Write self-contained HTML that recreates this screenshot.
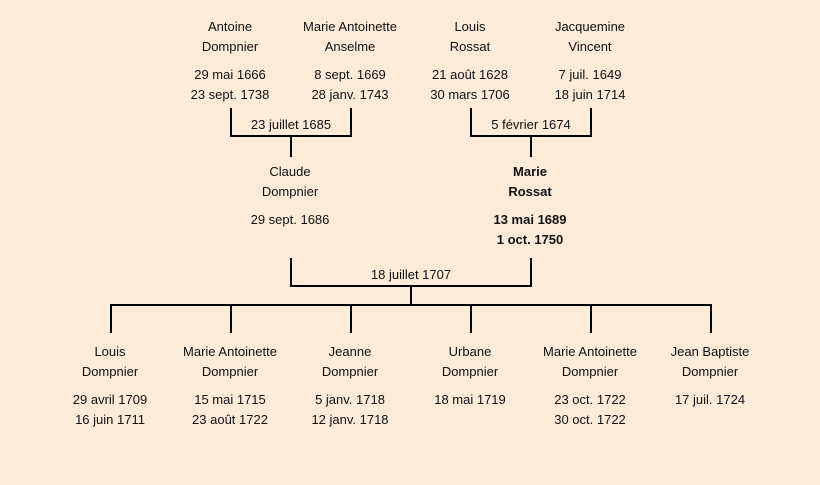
<!DOCTYPE html>
<html><head><meta charset="utf-8"><style>
html,body{margin:0;padding:0}
body{width:820px;height:485px;background:#fcebd9;position:relative;overflow:hidden;font-family:"Liberation Sans","DejaVu Sans",sans-serif;font-size:13px;color:#111}
.t{position:absolute;width:160px;margin-left:-80px;text-align:center;line-height:20px;white-space:nowrap}
.b{font-weight:bold}
svg{position:absolute;left:0;top:0}
</style></head><body>
<svg width="820" height="485" stroke="#000" stroke-width="2" fill="none">
<path d="M231 108V136H351V108M291 136V157"/>
<path d="M471 108V136H591V108M531 136V157"/>
<path d="M291 258V286H531V258M411 286V305"/>
<path d="M111 333V305H711V333M231 305V333M351 305V333M471 305V333M591 305V333"/>
</svg>
<div class="t" style="left:230px;top:17px">Antoine<br>Dompnier</div>
<div class="t" style="left:230px;top:65px">29 mai 1666<br>23 sept. 1738</div>
<div class="t" style="left:350px;top:17px">Marie Antoinette<br>Anselme</div>
<div class="t" style="left:350px;top:65px">8 sept. 1669<br>28 janv. 1743</div>
<div class="t" style="left:470px;top:17px">Louis<br>Rossat</div>
<div class="t" style="left:470px;top:65px">21 août 1628<br>30 mars 1706</div>
<div class="t" style="left:590px;top:17px">Jacquemine<br>Vincent</div>
<div class="t" style="left:590px;top:65px">7 juil. 1649<br>18 juin 1714</div>
<div class="t" style="left:291px;top:115px">23 juillet 1685</div>
<div class="t" style="left:531px;top:115px">5 février 1674</div>
<div class="t" style="left:290px;top:162px">Claude<br>Dompnier</div>
<div class="t" style="left:290px;top:210px">29 sept. 1686</div>
<div class="t b" style="left:530px;top:162px">Marie<br>Rossat</div>
<div class="t b" style="left:530px;top:210px">13 mai 1689<br>1 oct. 1750</div>
<div class="t" style="left:411px;top:265px">18 juillet 1707</div>
<div class="t" style="left:110px;top:342px">Louis<br>Dompnier</div>
<div class="t" style="left:110px;top:390px">29 avril 1709<br>16 juin 1711</div>
<div class="t" style="left:230px;top:342px">Marie Antoinette<br>Dompnier</div>
<div class="t" style="left:230px;top:390px">15 mai 1715<br>23 août 1722</div>
<div class="t" style="left:350px;top:342px">Jeanne<br>Dompnier</div>
<div class="t" style="left:350px;top:390px">5 janv. 1718<br>12 janv. 1718</div>
<div class="t" style="left:470px;top:342px">Urbane<br>Dompnier</div>
<div class="t" style="left:470px;top:390px">18 mai 1719</div>
<div class="t" style="left:590px;top:342px">Marie Antoinette<br>Dompnier</div>
<div class="t" style="left:590px;top:390px">23 oct. 1722<br>30 oct. 1722</div>
<div class="t" style="left:710px;top:342px">Jean Baptiste<br>Dompnier</div>
<div class="t" style="left:710px;top:390px">17 juil. 1724</div>
</body></html>
